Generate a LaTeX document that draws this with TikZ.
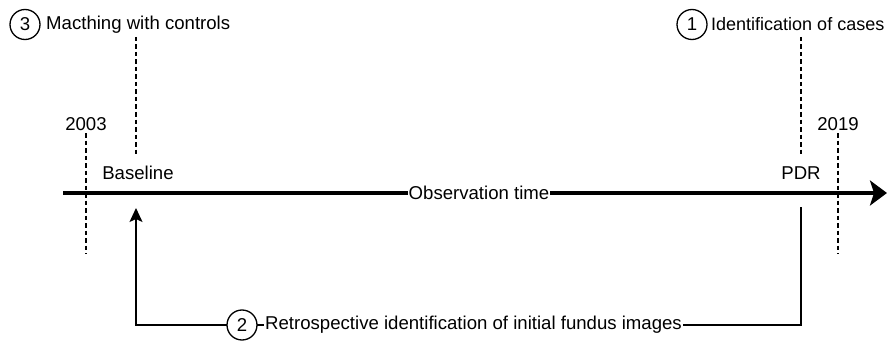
\documentclass[tikz,border=0pt]{standalone}
\usepackage{fontspec}
\setmainfont{Liberation Sans}
\usetikzlibrary{arrows.meta}
\begin{document}
\begin{tikzpicture}[x=1pt,y=-1pt,
  lbl/.style={font=\fontsize{18.6}{21}\selectfont, inner sep=0pt},
  num/.style={circle, draw, line width=1.3pt, fill=white, minimum size=30pt, inner sep=0pt, font=\fontsize{18.6}{21}\selectfont},
  dashline/.style={line width=1.4pt, dash pattern=on 4.5pt off 3pt},
  thin/.style={line width=1.4pt},
  main/.style={line width=4pt, -{Stealth[length=17pt,width=25pt,inset=4pt]}}]
\useasboundingbox (0,0) rectangle (887,345);
% top labels
\node[num] (c3) at (25,24.5) {3};
\node[lbl, anchor=west] (t3) at (46,24.5) {Macthing with controls};
\node[num] (c1) at (692,24.5) {1};
\node[lbl, anchor=west, font=\fontsize{18}{21}\selectfont] (t1) at (711,24.5) {Identification of cases};
% timeline
\coordinate (tl0) at (63,193);
\coordinate (tl1) at (887,193);
\draw[main] (tl0) -- (tl1);
\node[lbl, fill=white, inner xsep=1pt, inner ysep=3pt] (obs) at (479,193) {Observation time};
% year marks
\node[lbl] (y03) at (86,124) {2003};
\node[lbl] (y19) at (838,124) {2019};
\coordinate (y03b) at (86,254);
\coordinate (y19b) at (838,254);
\draw[dashline] (86,133) -- (y03b);
\draw[dashline] (838,133) -- (y19b);
% baseline / PDR
\node[lbl] (base) at (138,173) {Baseline};
\node[lbl] (pdr) at (801,173) {PDR};
\coordinate (bt) at (136,37);
\coordinate (bb) at (136,156);
\coordinate (pt) at (801,37);
\coordinate (pb) at (801,156);
\draw[dashline] (bt) -- (bb);
\draw[dashline] (pt) -- (pb);
% retrospective arrow
\coordinate (ps) at (801,207);
\coordinate (bs) at (136,208);
\draw[thin, -{Stealth[length=14pt,width=13pt,inset=3pt]}] (ps) -- (801,325) -- (136,325) -- (bs);
\node[num] (c2) at (242,325) {2};
\node[lbl, fill=white, inner xsep=1pt, inner ysep=3pt, anchor=west] (t2) at (264,325) {Retrospective identification of initial fundus images};
\end{tikzpicture}
\end{document}
